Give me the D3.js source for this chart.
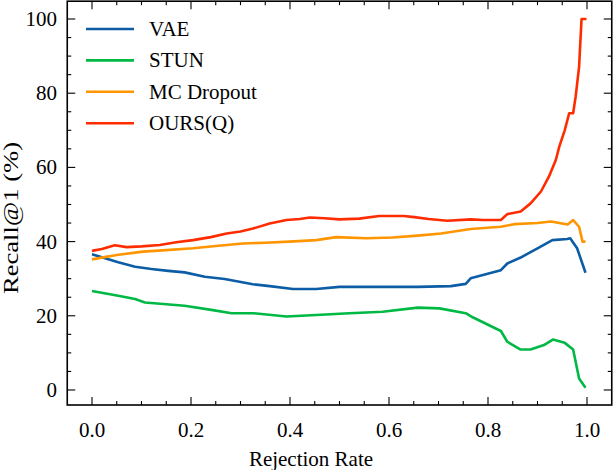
<!DOCTYPE html>
<html lang="en">
<head>
  <meta charset="UTF-8">
  <title>Recall@1 vs Rejection Rate</title>
  <script src="https://cdn.jsdelivr.net/npm/d3@7"></script>
  <style>
    html, body { margin: 0; padding: 0; background: #fff; }
    svg { display: block; }
  </style>
</head>
<body>
<script>
  // ------------- Data -------------
  const seriesNames = ["VAE", "STUN", "MC Dropout", "OURS(Q)"];
  const seriesColors = ["#0C5DA5", "#00B945", "#FF9500", "#FF2C00"];

  // [rejection rate, recall@1 %]
  const vae = [[0,36.6],[0.053,34.4],[0.087,33.2],[0.12,32.6],[0.154,32.1],[0.187,31.7],[0.228,30.5],
    [0.268,29.9],[0.325,28.5],[0.359,28.0],[0.406,27.2],[0.453,27.2],[0.5,27.8],[0.587,27.8],[0.658,27.8],
    [0.725,28.0],[0.755,28.6],[0.765,30.1],[0.826,32.3],[0.839,34.1],[0.866,35.7],[0.9,38.2],[0.93,40.4],
    [0.96,40.7],[0.966,40.9],[0.98,38.2],[0.997,31.6]];
  const stun = [[0,26.7],[0.053,25.4],[0.087,24.5],[0.107,23.6],[0.187,22.7],[0.241,21.6],[0.282,20.7],
    [0.325,20.7],[0.393,19.8],[0.453,20.2],[0.52,20.7],[0.587,21.1],[0.658,22.2],[0.702,22.0],[0.755,20.7],
    [0.769,19.6],[0.826,15.9],[0.839,13.0],[0.866,10.9],[0.886,10.9],[0.913,12.1],[0.931,13.6],[0.955,12.7],
    [0.972,10.9],[0.984,3.1],[0.997,0.6]];
  const mcDropout = [[0,35.2],[0.05,36.4],[0.103,37.3],[0.15,37.7],[0.204,38.2],[0.25,38.8],[0.305,39.5],
    [0.35,39.7],[0.399,40.0],[0.453,40.4],[0.493,41.2],[0.554,40.9],[0.607,41.1],[0.658,41.6],[0.705,42.2],
    [0.765,43.4],[0.826,44.0],[0.853,44.7],[0.9,45.0],[0.927,45.4],[0.961,44.6],[0.972,45.8],[0.984,44.0],
    [0.991,40.0],[0.997,40.0]];
  const ours = [[0,37.5],[0.02,38.0],[0.046,39.0],[0.07,38.5],[0.1,38.7],[0.137,39.1],[0.17,39.8],
    [0.204,40.4],[0.24,41.2],[0.272,42.2],[0.3,42.7],[0.325,43.5],[0.359,44.9],[0.393,45.8],[0.42,46.1],
    [0.44,46.5],[0.47,46.3],[0.5,46.0],[0.54,46.2],[0.58,46.9],[0.63,46.9],[0.651,46.6],[0.68,46.1],
    [0.718,45.6],[0.765,46.0],[0.79,45.8],[0.826,45.8],[0.839,47.4],[0.866,48.1],[0.886,50.3],[0.907,53.5],
    [0.923,57.5],[0.937,62.0],[0.944,65.6],[0.955,70.0],[0.964,74.6],[0.972,74.6],[0.977,79.0],[0.984,87.1],
    [0.989,100],[0.999,100]];
  const allSeries = [vae, stun, mcDropout, ours];

  const xTicks = [0, 0.2, 0.4, 0.6, 0.8, 1.0];
  const yTicks = [0, 20, 40, 60, 80, 100];

  // ------------- Layout -------------
  const width = 614, height = 470;
  const fontSize = 21;
  const serif = "'Liberation Serif', 'Times New Roman', Times, serif";

  const svg = d3.select("body").append("svg")
    .attr("width", width)
    .attr("height", height)
    .attr("font-family", serif)
    .style("font-family", serif);

  const x = d3.scaleLinear().domain([-0.05, 1.05]).range([67.25, 611.75]);
  const y = d3.scaleLinear().domain([-4.05, 104.8]).range([405, 1.2]);
  const [x0, x1] = x.range();
  const [y0, y1] = y.range();

  // ------------- Lines -------------
  const line = d3.line().x(d => x(d[0])).y(d => y(d[1]));
  const plot = svg.append("g");
  allSeries.forEach((s, i) => {
    plot.append("path")
      .attr("d", line(s))
      .attr("fill", "none")
      .attr("stroke", seriesColors[i])
      .attr("stroke-width", 2.6)
      .attr("stroke-linejoin", "round");
  });

  // ------------- Ticks (inward, all four sides) -------------
  const majorLen = 8, minorLen = 4;
  const xMinor = d3.range(-0.05, 1.0501, 0.05).filter(v => v > -0.049 && v < 1.049);
  const yMinor = d3.range(-5, 106, 5).filter(v => v > -4 && v < 104.8);
  const tickG = svg.append("g").attr("stroke", "#000").attr("stroke-width", 1.1);

  xMinor.forEach(v => {
    const isMajor = xTicks.some(t => Math.abs(t - v) < 1e-6);
    const len = isMajor ? majorLen : minorLen;
    tickG.append("line").attr("x1", x(v)).attr("x2", x(v)).attr("y1", y0).attr("y2", y0 - len);
    tickG.append("line").attr("x1", x(v)).attr("x2", x(v)).attr("y1", y1).attr("y2", y1 + len);
  });
  yMinor.forEach(v => {
    const isMajor = yTicks.includes(v);
    const len = isMajor ? majorLen : minorLen;
    tickG.append("line").attr("y1", y(v)).attr("y2", y(v)).attr("x1", x0).attr("x2", x0 + len);
    tickG.append("line").attr("y1", y(v)).attr("y2", y(v)).attr("x1", x1).attr("x2", x1 - len);
  });

  // frame
  svg.append("rect")
    .attr("x", x0).attr("y", y1)
    .attr("width", x1 - x0).attr("height", y0 - y1)
    .attr("fill", "none").attr("stroke", "#000").attr("stroke-width", 1.6);

  // ------------- Tick labels -------------
  svg.append("g").selectAll("text").data(xTicks).join("text")
    .attr("x", d => x(d)).attr("y", 437)
    .attr("text-anchor", "middle")
    .attr("font-size", fontSize)
    .text(d => d.toFixed(1));

  svg.append("g").selectAll("text").data(yTicks).join("text")
    .attr("x", 57).attr("y", d => y(d) + 7)
    .attr("text-anchor", "end")
    .attr("font-size", fontSize)
    .text(d => d);

  // ------------- Axis titles -------------
  svg.append("text")
    .attr("x", 311).attr("y", 466)
    .attr("text-anchor", "middle")
    .attr("font-size", fontSize)
    .text("Rejection Rate");

  svg.append("text")
    .attr("transform", "translate(18,218) rotate(-90)")
    .attr("text-anchor", "middle")
    .attr("font-size", fontSize)
    .attr("textLength", 152)
    .attr("lengthAdjust", "spacingAndGlyphs")
    .text("Recall@1 (%)");

  // ------------- Legend -------------
  const legend = svg.append("g");
  seriesNames.forEach((name, i) => {
    const ly = 29 + i * 31.4;
    legend.append("line")
      .attr("x1", 86).attr("x2", 134).attr("y1", ly).attr("y2", ly)
      .attr("stroke", seriesColors[i]).attr("stroke-width", 2.6);
    legend.append("text")
      .attr("x", 149).attr("y", ly + 7)
      .attr("font-size", fontSize)
      .text(name);
  });
</script>
</body>
</html>
